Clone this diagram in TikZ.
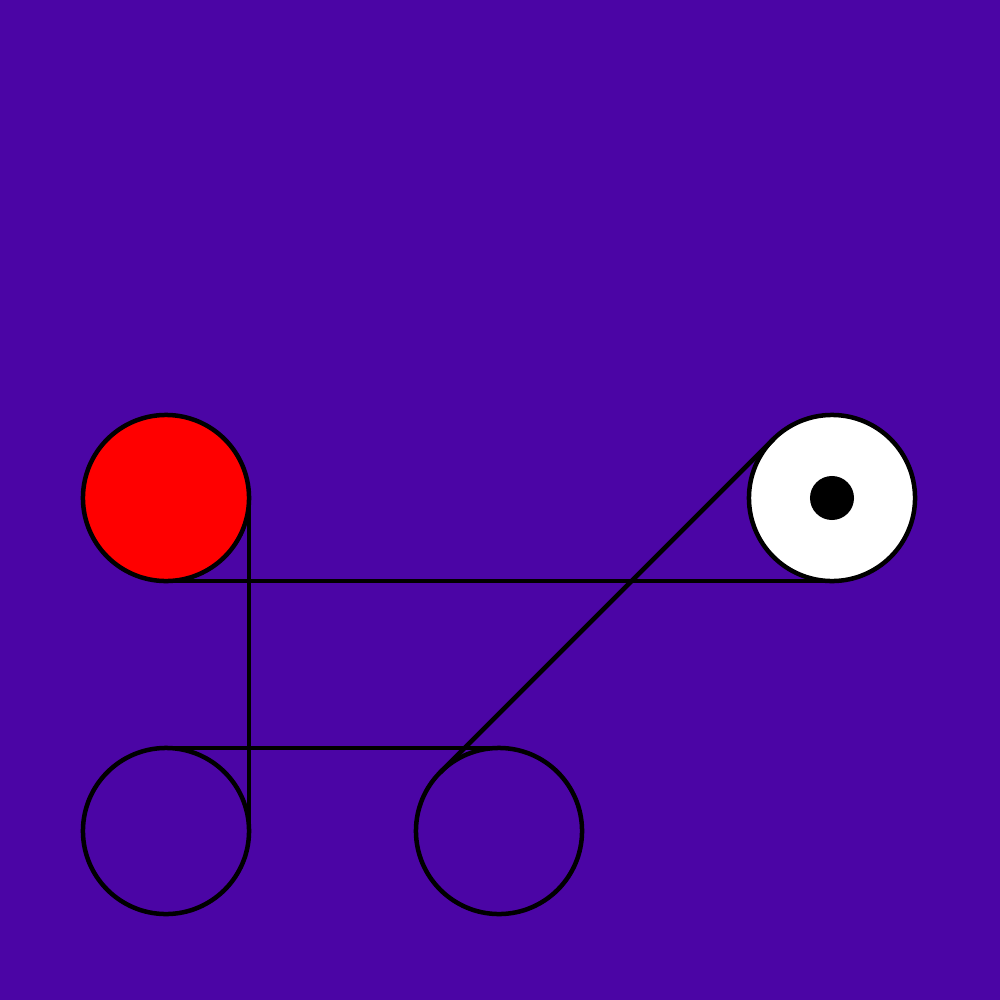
\documentclass[tikz,border=0pt]{standalone}
\definecolor{bgpurple}{HTML}{4B05A5}
\tikzset{
  disc/.style={circle,draw=black,line width=0.045cm,minimum size=1.66cm,inner sep=0pt,outer sep=0pt},
  link/.style={draw=black,line width=0.045cm},
  dot/.style={circle,fill=black,minimum size=0.44cm,inner sep=0pt,outer sep=0pt}
}
\begin{document}
\begin{tikzpicture}[x=0.01cm,y=-0.01cm]
\fill[bgpurple] (0,0) rectangle (1000,1000);
\useasboundingbox (0,0) rectangle (1000,1000);
\node[disc,fill=red] (red) at (166,498) {};
\node[disc,fill=white] (white) at (832,498) {};
\node[dot] (pin) at (832,498) {};
\node[disc] (bl) at (166,831) {};
\node[disc] (bm) at (499,831) {};
\draw[link] (red.south) -- (white.south);
\draw[link] (red.east) -- (bl.east);
\draw[link] (bl.north) -- (bm.north);
\draw[link] (bm.135) -- (white.135);
\end{tikzpicture}
\end{document}
